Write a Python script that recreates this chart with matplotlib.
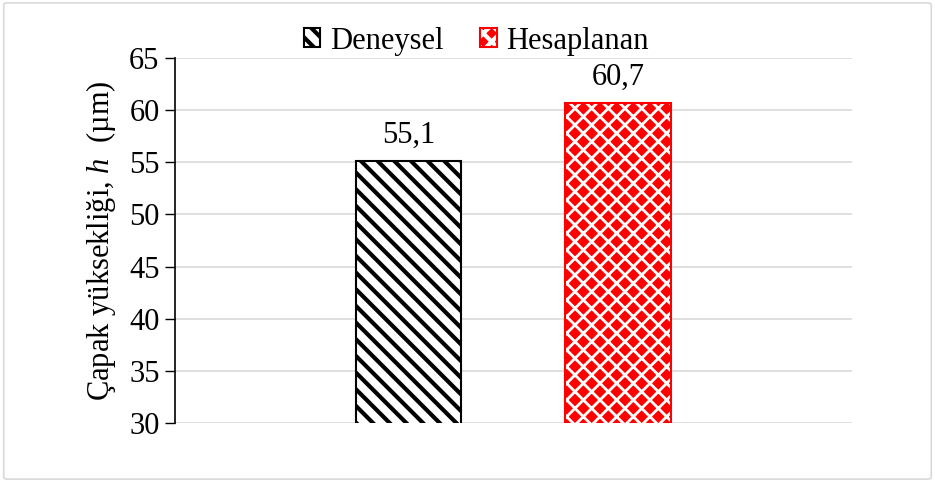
import matplotlib
matplotlib.use("Agg")
import matplotlib.pyplot as plt
from matplotlib.patches import FancyBboxPatch
from matplotlib.legend_handler import HandlerTuple

plt.rcParams['font.family'] = ['Liberation Serif', 'DejaVu Serif']
plt.rcParams['mathtext.fontset'] = 'custom'
plt.rcParams['mathtext.it'] = 'Liberation Serif:italic'
plt.rcParams['mathtext.rm'] = 'Liberation Serif'

series = ['Deneysel', 'Hesaplanan']
values = [55.1, 60.7]
yticks = [30, 35, 40, 45, 50, 55, 60, 65]

FS = 22

fig = plt.figure(figsize=(9.35, 4.82), dpi=100)
ax = fig.add_axes([0.187, 0.122, 0.724, 0.758])

# outer chart frame
fig.patches.append(FancyBboxPatch((0.004, 0.006), 0.992, 0.988,
                                  boxstyle='round,pad=0,rounding_size=0.004',
                                  transform=fig.transFigure, facecolor='none',
                                  edgecolor='#d9d9d9', linewidth=1.2))

width = 0.156
offsets = [-0.155, 0.155]


def hatch_width(bars, lw):
    for p in bars:
        if hasattr(p, 'set_hatch_linewidth'):
            p.set_hatch_linewidth(lw)


# experimental: black diagonal stripes
plt.rcParams['hatch.linewidth'] = 3.0
b1 = ax.bar(offsets[0], values[0], width, facecolor='white',
            edgecolor='black', hatch='\\\\', linewidth=1.5, zorder=3)
hatch_width(b1, 3.0)

# calculated: red diamonds left between white crossing lines
plt.rcParams['hatch.linewidth'] = 2.0
b2 = ax.bar(offsets[1], values[1], width, facecolor='red',
            edgecolor='white', hatch='xx', linewidth=0, zorder=3)
hatch_width(b2, 2.0)
b2o = ax.bar(offsets[1], values[1], width, facecolor='none',
             edgecolor='red', linewidth=1.5, zorder=4)
plt.rcParams['hatch.linewidth'] = 3.0

for x, v in zip(offsets, values):
    ax.annotate(f'{v:.1f}'.replace('.', ','), (x, v), xytext=(0, 8),
                textcoords='offset points', ha='center', va='bottom',
                fontsize=FS)

ax.set_xlim(-0.5, 0.5)
ax.set_ylim(30, 65)
ax.set_yticks(yticks)
ax.set_xticks([])
ax.tick_params(axis='y', labelsize=FS, length=7, width=1, direction='out', pad=4)
ax.yaxis.grid(True, color='#d9d9d9', linewidth=1.2)
ax.set_axisbelow(True)
for s in ['top', 'right', 'bottom']:
    ax.spines[s].set_visible(False)
ax.spines['left'].set_linewidth(1.2)
ax.set_ylabel('Çapak yüksekliği, $h$  (µm)', fontsize=FS, labelpad=8)

fig.legend([b1[0], (b2[0], b2o[0])], series, loc='center',
           bbox_to_anchor=(476 / 935, 1 - 41 / 482), ncol=2, frameon=False,
           fontsize=FS, handlelength=0.55, handleheight=0.55,
           handletextpad=0.3, columnspacing=1.2,
           handler_map={tuple: HandlerTuple(ndivide=1)})

fig.savefig('out.png', dpi=100)
